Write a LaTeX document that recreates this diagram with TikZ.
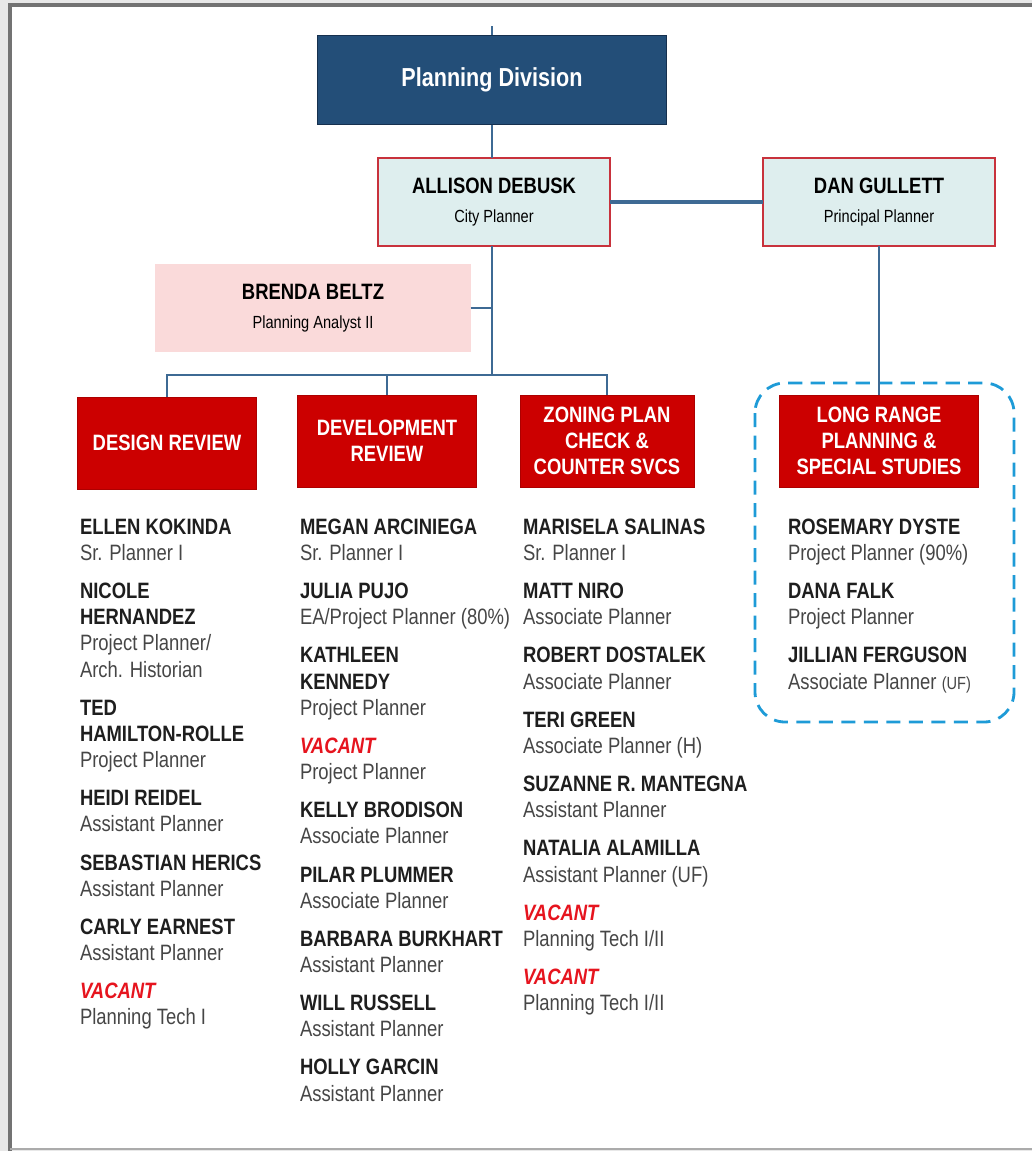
\documentclass[tikz,border=0pt]{standalone}
\usepackage{fontspec}
\setmainfont{Liberation Sans}[FakeStretch=0.83]
\usepackage{xcolor}
\usepackage{tikz}
\usetikzlibrary{positioning}

\definecolor{navy}{RGB}{35,78,120}
\definecolor{navydark}{RGB}{22,48,78}
\definecolor{paleblue}{RGB}{222,238,238}
\definecolor{boxred}{RGB}{200,50,60}
\definecolor{palepink}{RGB}{250,218,218}
\definecolor{unitred}{RGB}{204,0,0}
\definecolor{linkblue}{RGB}{62,106,148}
\definecolor{dashblue}{RGB}{30,155,215}
\definecolor{namegray}{RGB}{30,30,30}
\definecolor{titlegray}{RGB}{70,70,70}
\definecolor{vacred}{RGB}{230,20,30}
\definecolor{framegray}{RGB}{115,115,115}
\definecolor{edgegray}{RGB}{232,232,232}

\newcommand{\pname}[1]{\strut\textbf{\color{namegray}#1}}
\newcommand{\ptitle}[1]{\strut{\color{titlegray}#1}}
\newcommand{\pvacant}{\strut\textbf{\textit{\color{vacred}VACANT}}}
\newcommand{\bsmall}{\fontsize{12.5}{14}\selectfont}

\begin{document}
\begin{tikzpicture}[x=0.025cm, y=-0.025cm, node distance=0.3cm, outer sep=0pt,
  font=\fontsize{15.8}{18.6}\selectfont,
  link/.style={draw=linkblue, line width=1.7pt},
  headbox/.style={draw=navydark, line width=1.2pt, fill=navy, text=white,
    font=\fontsize{18.5}{20}\selectfont\bfseries, minimum width=8.725cm, minimum height=2.225cm},
  leadbox/.style={draw=boxred, line width=1pt, fill=paleblue, align=center,
    minimum width=5.8cm, minimum height=2.2cm},
  aidebox/.style={fill=palepink, align=center, minimum width=7.875cm, minimum height=2.175cm},
  unitbox/.style={draw=unitred!85!black, line width=0.6pt, fill=unitred, text=white,
    font=\fontsize{15.8}{18.6}\selectfont\bfseries, align=center, minimum height=2.3cm},
  staff/.style={inner sep=0pt, text width=6cm, align=flush left},
  teamframe/.style={draw=dashblue, line width=2pt, dash pattern=on 10pt off 6pt, rounded corners=0.75cm}
]
\useasboundingbox (0,0) rectangle (1032,1151);

% page edge
\fill[edgegray] (0,0) rectangle (1032,1151);
\fill[white] (12,7) rectangle (1032,1148);
\draw[framegray, line width=3pt] (10,1151) -- (10,5) -- (1032,5);
\draw[framegray!60, line width=2pt] (10,1149) -- (1032,1149);

% Top
\node[headbox] (plan) at (492,80) {Planning Division};
\node[leadbox] (allison) at (494,202) {\textbf{ALLISON DEBUSK}\\[2pt]{\bsmall City Planner}};
\node[leadbox] (dan) at (879,202) {\textbf{DAN GULLETT}\\[2pt]{\bsmall Principal Planner}};
\node[aidebox] (brenda) at (313,308) {\textbf{BRENDA BELTZ}\\[2pt]{\bsmall Planning Analyst II}};

% Sections
\node[unitbox, minimum width=4.475cm] (design) at (167,443) {DESIGN REVIEW};
\node[unitbox, minimum width=4.475cm] (dev) at (387,441) {DEVELOPMENT\\REVIEW};
\node[unitbox, minimum width=4.35cm] (zoning) at (607,441) {ZONING PLAN\\CHECK \&\\COUNTER SVCS};
\node[unitbox, minimum width=4.975cm] (lrp) at (879,441) {LONG RANGE\\PLANNING \&\\SPECIAL STUDIES};

\draw[teamframe] (755,383) rectangle (1014,722);

% Lines
\coordinate (top) at (492,26);
\coordinate (bus) at (492,375);
\draw[link] (top) -- (plan.north);
\draw[link] (plan.south) -- (plan.south |- allison.north);
\draw[link, line width=2.6pt] (allison.east) -- (dan.west);
\draw[link] (dan.south) -- (lrp.north);
\draw[link] (allison.south -| bus) -- (bus);
\draw[link] (brenda.east) -- (brenda.east -| bus);
\draw[link] (design.north) |- (zoning.north |- bus) -- (zoning.north);
\draw[link] (dev.north) -- (dev.north |- bus);

% Design review staff
\node[staff, anchor=north west] (ellen) at (80,516) {\pname{ELLEN KOKINDA}\\\ptitle{Sr. Planner I}};
\node[staff, below=of ellen] (nicole) {\pname{NICOLE}\\\pname{HERNANDEZ}\\\ptitle{Project Planner/}\\\ptitle{Arch. Historian}};
\node[staff, below=of nicole] (ted) {\pname{TED}\\\pname{HAMILTON-ROLLE}\\\ptitle{Project Planner}};
\node[staff, below=of ted] (heidi) {\pname{HEIDI REIDEL}\\\ptitle{Assistant Planner}};
\node[staff, below=of heidi] (sebastian) {\pname{SEBASTIAN HERICS}\\\ptitle{Assistant Planner}};
\node[staff, below=of sebastian] (carly) {\pname{CARLY EARNEST}\\\ptitle{Assistant Planner}};
\node[staff, below=of carly] (dvacant) {\pvacant\\\ptitle{Planning Tech I}};

% Development review staff
\node[staff, anchor=north west] (megan) at (300,516) {\pname{MEGAN ARCINIEGA}\\\ptitle{Sr. Planner I}};
\node[staff, below=of megan] (julia) {\pname{JULIA PUJO}\\\ptitle{EA/Project Planner (80\%)}};
\node[staff, below=of julia] (kathleen) {\pname{KATHLEEN}\\\pname{KENNEDY}\\\ptitle{Project Planner}};
\node[staff, below=of kathleen] (vvacant) {\pvacant\\\ptitle{Project Planner}};
\node[staff, below=of vvacant] (kelly) {\pname{KELLY BRODISON}\\\ptitle{Associate Planner}};
\node[staff, below=of kelly] (pilar) {\pname{PILAR PLUMMER}\\\ptitle{Associate Planner}};
\node[staff, below=of pilar] (barbara) {\pname{BARBARA BURKHART}\\\ptitle{Assistant Planner}};
\node[staff, below=of barbara] (will) {\pname{WILL RUSSELL}\\\ptitle{Assistant Planner}};
\node[staff, below=of will] (holly) {\pname{HOLLY GARCIN}\\\ptitle{Assistant Planner}};

% Zoning staff
\node[staff, anchor=north west] (marisela) at (523,516) {\pname{MARISELA SALINAS}\\\ptitle{Sr. Planner I}};
\node[staff, below=of marisela] (matt) {\pname{MATT NIRO}\\\ptitle{Associate Planner}};
\node[staff, below=of matt] (robert) {\pname{ROBERT DOSTALEK}\\\ptitle{Associate Planner}};
\node[staff, below=of robert] (teri) {\pname{TERI GREEN}\\\ptitle{Associate Planner (H)}};
\node[staff, below=of teri] (suzanne) {\pname{SUZANNE R. MANTEGNA}\\\ptitle{Assistant Planner}};
\node[staff, below=of suzanne] (natalia) {\pname{NATALIA ALAMILLA}\\\ptitle{Assistant Planner (UF)}};
\node[staff, below=of natalia] (zvacant) {\pvacant\\\ptitle{Planning Tech I/II}};
\node[staff, below=of zvacant] (zvacantb) {\pvacant\\\ptitle{Planning Tech I/II}};

% Long range staff
\node[staff, anchor=north west] (rosemary) at (788,516) {\pname{ROSEMARY DYSTE}\\\ptitle{Project Planner (90\%)}};
\node[staff, below=of rosemary] (dana) {\pname{DANA FALK}\\\ptitle{Project Planner}};
\node[staff, below=of dana] (jillian) {\pname{JILLIAN FERGUSON}\\\ptitle{Associate Planner {\fontsize{12.5}{18.6}\selectfont(UF)}}};

\end{tikzpicture}
\end{document}
